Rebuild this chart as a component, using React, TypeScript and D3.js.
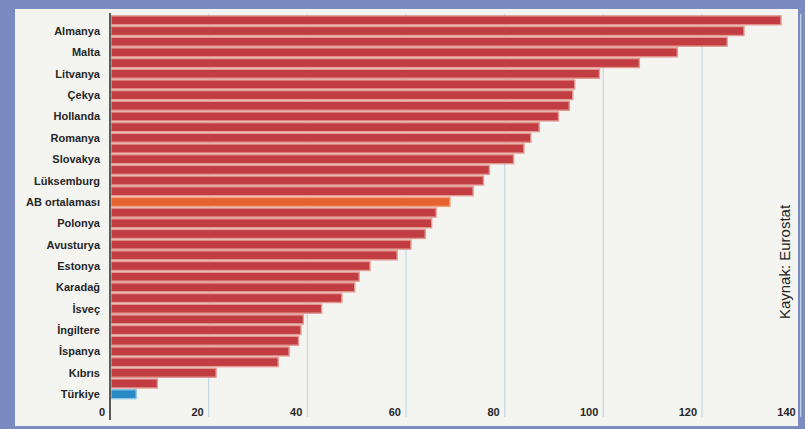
import React from "react";
import * as d3 from "d3";

const labels: string[] = [
  "", "Almanya", "", "Malta", "", "Litvanya", "", "Çekya", "", "Hollanda",
  "", "Romanya", "", "Slovakya", "", "Lüksemburg", "", "AB ortalaması", "", "Polonya",
  "", "Avusturya", "", "Estonya", "", "Karadağ", "", "İsveç", "", "İngiltere",
  "", "İspanya", "", "Kıbrıs", "", "Türkiye",
];

const values: number[] = [
  136.0, 128.5, 125.1, 115.0, 107.3, 99.2, 94.2, 93.8, 93.1, 90.9,
  87.0, 85.3, 83.9, 81.8, 76.9, 75.7, 73.6, 68.9, 66.1, 65.2,
  63.9, 61.0, 58.2, 52.7, 50.5, 49.6, 47.0, 42.9, 39.2, 38.7,
  38.2, 36.3, 34.1, 21.5, 9.6, 5.3,
];

const ticks: number[] = [0, 20, 40, 60, 80, 100, 120, 140];
const highlightAvg = "AB ortalaması";
const highlightTr = "Türkiye";
const source = "Kaynak: Eurostat";

export default function App() {
  const W = 805, H = 429;
  const x = d3.scaleLinear().domain([0, 140]).range([110, 800.7]);
  const y = d3.scaleBand<number>().domain(d3.range(values.length)).range([15, 399.5]).paddingInner(0.16).paddingOuter(0.08);
  const fontLab = "'Liberation Sans', Arial, sans-serif";

  const colorOf = (i: number) =>
    labels[i] === highlightAvg ? "#e6622f" : labels[i] === highlightTr ? "#2889c5" : "#c13d41";
  const strokeOf = (i: number) =>
    labels[i] === highlightAvg ? "#f0a07a" : labels[i] === highlightTr ? "#8cc3e3" : "#e49a93";

  return (
    <svg width={W} height={H} style={{ position: "absolute", left: 0, top: 0, display: "block" }}>
      <rect x={0} y={0} width={W} height={H} fill="#7b8bc1" />
      <rect x={15} y={9} width={783} height={417} fill="#f4f4f1" />
      {ticks.filter((t) => t > 0).map((t) => (
        <line key={t} x1={x(t)} x2={x(t)} y1={14} y2={417} stroke="#c3d9e6" strokeWidth={1.2} />
      ))}
      {values.map((v, i) => (
        <rect
          key={i}
          x={x(0) + 1}
          y={y(i)!}
          width={x(v) - x(0) - 1}
          height={y.bandwidth()}
          fill={colorOf(i)}
          stroke={strokeOf(i)}
          strokeWidth={1.4}
        />
      ))}
      <line x1={x(0)} x2={x(0)} y1={13} y2={420} stroke="#5a5a5a" strokeWidth={2} />
      {labels.map((l, i) =>
        l ? (
          <text
            key={i}
            x={100}
            y={y(i)! + y.bandwidth() / 2}
            dy="0.36em"
            textAnchor="end"
            fontFamily={fontLab}
            fontWeight="bold"
            fontSize={11}
            fill="#262626"
          >
            {l}
          </text>
        ) : null
      )}
      {ticks.map((t) => (
        <text
          key={t}
          x={x(t) - 5}
          y={416}
          textAnchor="end"
          fontFamily={fontLab}
          fontWeight="bold"
          fontSize={11}
          fill="#262626"
        >
          {t}
        </text>
      ))}
      <text
        transform={`translate(790,262) rotate(-90)`}
        textAnchor="middle"
        fontFamily={fontLab}
        fontSize={15}
        fill="#222"
      >
        {source}
      </text>
    </svg>
  );
}
